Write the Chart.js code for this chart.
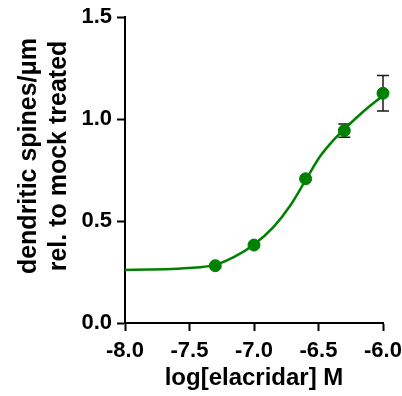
<!DOCTYPE html>
<html>
<head>
<meta charset="utf-8">
<script src="https://cdn.jsdelivr.net/npm/chart.js@4.4.1/dist/chart.umd.min.js"></script>
<style>
  html, body { margin: 0; padding: 0; background: #fff; }
  #wrap { width: 402px; height: 396px; position: relative; }
</style>
</head>
<body>
<div id="wrap"><canvas id="chart"></canvas></div>
<script>
const GREEN = '#008000';
const FONT = '"Liberation Sans", Arial, Helvetica, sans-serif';
const POINT_R = 6;

// measured points (mean +/- SEM)
const doseLog = [-7.3, -7.0, -6.6, -6.3, -6.0];
const spines  = [0.281, 0.382, 0.707, 0.943, 1.126];
const sem     = [0.010, 0.012, 0.015, 0.033, 0.087];

// fitted curve
const fitX = [-8.0, -7.8, -7.6, -7.45, -7.3, -7.15, -7.0, -6.85, -6.72, -6.6, -6.49, -6.4, -6.3, -6.2, -6.1, -6.0];
const fitY = [0.260, 0.262, 0.266, 0.272, 0.285, 0.325, 0.385, 0.470, 0.575, 0.700, 0.815, 0.885, 0.950, 1.010, 1.065, 1.115];

const xTicks = [-8.0, -7.5, -7.0, -6.5, -6.0];
const yTicks = [0.0, 0.5, 1.0, 1.5];
const xTitle = 'log[elacridar] M';
const yTitle = ['dendritic spines/μm', 'rel. to mock treated'];

// like Prism: bars shorter than the symbol are hidden behind it
const errorBars = {
  id: 'errorBars',
  beforeDatasetsDraw(chart) {
    const { ctx, scales: { x, y } } = chart;
    ctx.save();
    ctx.strokeStyle = '#1a1a1a';
    ctx.lineWidth = 1.5;
    doseLog.forEach((d, i) => {
      const px = x.getPixelForValue(d);
      const mid = y.getPixelForValue(spines[i]);
      const top = y.getPixelForValue(spines[i] + sem[i]);
      const bot = y.getPixelForValue(spines[i] - sem[i]);
      if (mid - top <= POINT_R) return;
      ctx.beginPath();
      ctx.moveTo(px, top); ctx.lineTo(px, bot);
      ctx.moveTo(px - 6, top); ctx.lineTo(px + 6, top);
      ctx.moveTo(px - 6, bot); ctx.lineTo(px + 6, bot);
      ctx.stroke();
    });
    ctx.restore();
  },
};

const yTitlePlugin = {
  id: 'yTitle',
  afterDraw(chart) {
    const ctx = chart.ctx;
    ctx.save();
    ctx.translate(29, 156);
    ctx.rotate(-Math.PI / 2);
    ctx.font = `bold 25px ${FONT}`;
    ctx.fillStyle = '#000';
    ctx.textAlign = 'center';
    ctx.textBaseline = 'middle';
    yTitle.forEach((line, i) => ctx.fillText(line, 0, i * 30));
    ctx.restore();
  },
};

const tickFont = { family: FONT, size: 22, weight: 'bold' };
const axisGrid = { display: true, drawOnChartArea: false, drawTicks: true, tickLength: 8, tickWidth: 2, tickColor: '#000' };
const axisBorder = { display: true, color: '#000', width: 2 };

new Chart(document.getElementById('chart'), {
  type: 'scatter',
  data: {
    datasets: [
      {
        type: 'scatter',
        data: doseLog.map((d, i) => ({ x: d, y: spines[i] })),
        backgroundColor: GREEN,
        borderColor: GREEN,
        pointRadius: POINT_R,
        pointHoverRadius: POINT_R,
        clip: false,
        order: 0,
      },
      {
        type: 'line',
        data: fitX.map((d, i) => ({ x: d, y: fitY[i] })),
        borderColor: GREEN,
        borderWidth: 2.5,
        pointRadius: 0,
        fill: false,
        cubicInterpolationMode: 'monotone',
        order: 1,
      },
    ],
  },
  options: {
    responsive: true,
    maintainAspectRatio: false,
    animation: false,
    layout: { padding: { top: 17, right: 19, bottom: 0, left: 0 } },
    plugins: { legend: { display: false }, tooltip: { enabled: false } },
    scales: {
      x: {
        type: 'linear',
        min: -8, max: -6,
        afterBuildTicks: (s) => { s.ticks = xTicks.map(v => ({ value: v })); },
        afterFit: (s) => { s.height = 73; s.paddingLeft = 0; s.paddingRight = 0; },
        grid: axisGrid,
        border: axisBorder,
        ticks: { color: '#000', font: tickFont, padding: 7, maxRotation: 0, autoSkip: false, callback: (v) => Number(v).toFixed(1) },
        title: { display: true, text: xTitle, color: '#000', font: { family: FONT, size: 24, weight: 'bold' }, padding: { top: 0, bottom: 3 } },
      },
      y: {
        type: 'linear',
        min: 0, max: 1.5,
        afterBuildTicks: (s) => { s.ticks = yTicks.map(v => ({ value: v })); },
        afterFit: (s) => { s.width = 125; s.paddingTop = 0; s.paddingBottom = 0; },
        grid: axisGrid,
        border: axisBorder,
        ticks: { color: '#000', font: tickFont, padding: 5, autoSkip: false, callback: (v) => Number(v).toFixed(1) },
      },
    },
  },
  plugins: [errorBars, yTitlePlugin],
});
</script>
</body>
</html>
